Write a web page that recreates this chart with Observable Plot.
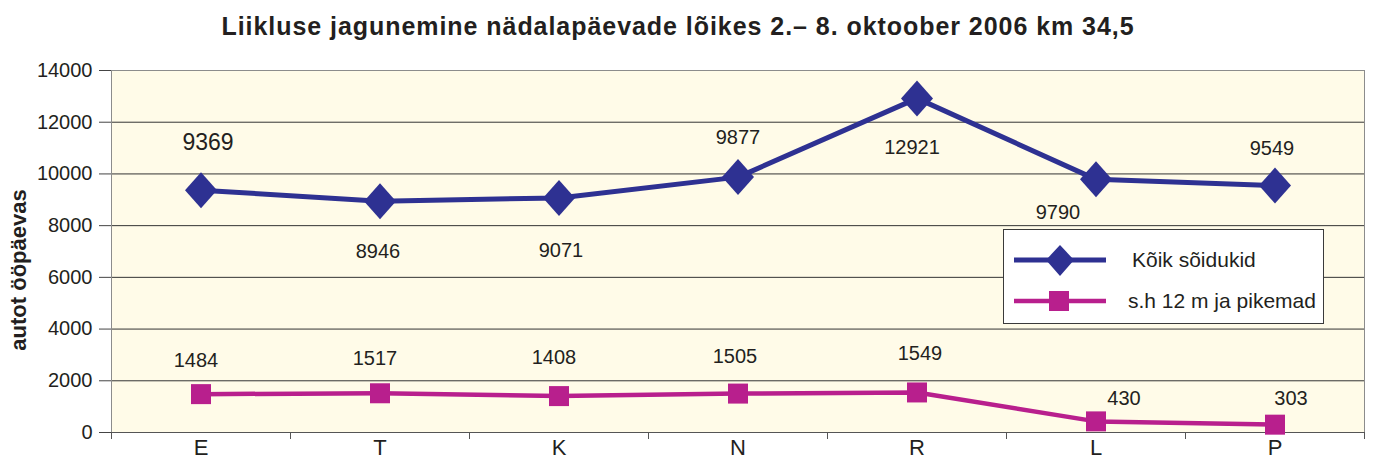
<!DOCTYPE html>
<html><head><meta charset="utf-8">
<script src="https://cdn.jsdelivr.net/npm/d3@7"></script>
<script src="https://cdn.jsdelivr.net/npm/@observablehq/plot@0.6"></script>
<style>
body{margin:0;background:#fff;font-family:"Liberation Sans",Arial,sans-serif;}
#wrap{position:relative;width:1375px;height:459px;overflow:hidden}
#title{position:absolute;left:0;top:12px;width:1356px;height:28px;line-height:28px;text-align:center;font-weight:bold;font-size:25px;letter-spacing:0.95px;color:#231f20}
#chart{position:absolute;left:0;top:52px}
#legend{position:absolute;left:1003px;top:229px;width:319px;height:93px;border:1px solid #3a3a3a;background:#fff}
#legend .row{position:absolute;left:0;height:30px;width:319px}
#legend svg{position:absolute;left:10px;top:0}
#legend span{position:absolute;font-size:21px;color:#231f20;line-height:30px;top:0}
</style></head>
<body><div id="wrap"><div id="title"></div><div id="chart"></div><div id="legend"></div></div>
<script>
const days = ["E", "T", "K", "N", "R", "L", "P"];
const allVehicles = [9369, 8946, 9071, 9877, 12921, 9790, 9549];
const longVehicles = [1484, 1517, 1408, 1505, 1549, 430, 303];
const yTicks = [0, 2000, 4000, 6000, 8000, 10000, 12000, 14000];
const seriesNames = ["Kõik sõidukid", "s.h 12 m ja pikemad"];
const titleText = "Liikluse jagunemine nädalapäevade lõikes 2.– 8. oktoober 2006 km 34,5";
const yLabel = "autot ööpäevas";

// label placement relative to each point (dx, dy)
const allLabelOffsets = [[7,-48],[-2,50],[2,53],[0,-40],[-5,49],[-38,33],[-3,-37]];
const longLabelOffsets = [[-5,-34],[-5,-35],[-5,-38],[-3,-37],[3,-39],[28,-23],[16,-26]];

const blue = "#2e3192";
const pink = "#b81f8d";

const diamond = {draw(ctx, size){ const r = Math.sqrt(size/Math.PI); ctx.moveTo(0,-1.8*r); ctx.lineTo(1.6*r,0); ctx.lineTo(0,1.8*r); ctx.lineTo(-1.6*r,0); ctx.closePath(); }};
const square = {draw(ctx, size){ const r = Math.sqrt(size/Math.PI); ctx.rect(-r,-r,2*r,2*r); }};

const allRows = days.map((d,i)=>({i, day:d, value: allVehicles[i], off: allLabelOffsets[i]}));
const longRows = days.map((d,i)=>({i, day:d, value: longVehicles[i], off: longLabelOffsets[i]}));

document.getElementById("title").textContent = titleText;

const font = '"Liberation Sans", Arial, sans-serif';
const plot = Plot.plot({
  width: 1375, height: 407,
  marginLeft: 111, marginRight: 11, marginTop: 18, marginBottom: 27,
  x: {type: "linear", domain: [-0.5, days.length - 0.5]},
  y: {domain: [0, 14000]},
  style: {fontFamily: font, fontSize: "20px", color: "#231f20", background: "transparent", overflow: "visible"},
  marks: [
    Plot.frame({fill: "#fffbe8", stroke: null}),
    Plot.gridY(yTicks.filter(v => v > 0 && v < 14000), {stroke: "#333", strokeOpacity: 1}),
    Plot.ruleY([14000], {stroke: "#8c8c8c"}),
    Plot.ruleY([0], {stroke: "#555"}),
    Plot.ruleX([-0.5, days.length - 0.5], {stroke: "#8c8c8c"}),
    Plot.axisY({ticks: yTicks, tickSize: 12, tickPadding: 7, tickFormat: d => String(d), label: null, stroke: "#444", strokeOpacity: 1}),
    Plot.axisX({ticks: d3.range(days.length + 1).map(i => i - 0.5), tickSize: 7, tickFormat: () => "", label: null, stroke: "#555", strokeOpacity: 1}),
    Plot.axisX({ticks: d3.range(days.length), tickSize: 0, tickPadding: 7, tickFormat: i => days[i], label: null, fontSize: 22}),
    Plot.line(allRows, {x: "i", y: "value", stroke: blue, strokeWidth: 5}),
    Plot.line(longRows, {x: "i", y: "value", stroke: pink, strokeWidth: 4.5}),
    Plot.dot(allRows, {x: "i", y: "value", symbol: diamond, r: 10, fill: blue, stroke: null}),
    Plot.dot(longRows, {x: "i", y: "value", symbol: square, r: 10, fill: pink, stroke: null}),
    ...allRows.map(d => Plot.text([d], {x: "i", y: "value", text: r => String(r.value), dx: d.off[0], dy: d.off[1], fontSize: d.i === 0 ? 23 : 20})),
    ...longRows.map(d => Plot.text([d], {x: "i", y: "value", text: r => String(r.value), dx: d.off[0], dy: d.off[1], fontSize: 20}))
  ]
});
// y-axis title, rotated, centred beside the axis
d3.select(plot).append("text")
  .attr("transform", "translate(18,218) rotate(-90)")
  .attr("text-anchor", "middle").attr("dy", "0.35em")
  .attr("font-weight", "bold").attr("font-size", 22).attr("fill", "#231f20")
  .text(yLabel);
document.getElementById("chart").appendChild(plot);

// legend
const legend = document.getElementById("legend");
const items = [{name: seriesNames[0], color: blue, sym: "diamond", top: 15, textLeft: 128}, {name: seriesNames[1], color: pink, sym: "square", top: 56, textLeft: 124}];
for (const it of items) {
  const row = document.createElement("div");
  row.className = "row"; row.style.top = it.top + "px";
  const s = d3.create("svg").attr("width", 95).attr("height", 32);
  s.append("line").attr("x1", 0).attr("x2", 92).attr("y1", 15).attr("y2", 15).attr("stroke", it.color).attr("stroke-width", it.sym === "diamond" ? 5 : 4.5);
  if (it.sym === "diamond") s.append("path").attr("d", "M46,0L60,15L46,31L32,15Z").attr("fill", it.color);
  else s.append("rect").attr("x", 35).attr("y", 5).attr("width", 20).attr("height", 20).attr("fill", it.color);
  row.appendChild(s.node());
  const sp = document.createElement("span"); sp.textContent = it.name; sp.style.left = it.textLeft + "px";
  row.appendChild(sp);
  legend.appendChild(row);
}
</script></body></html>
